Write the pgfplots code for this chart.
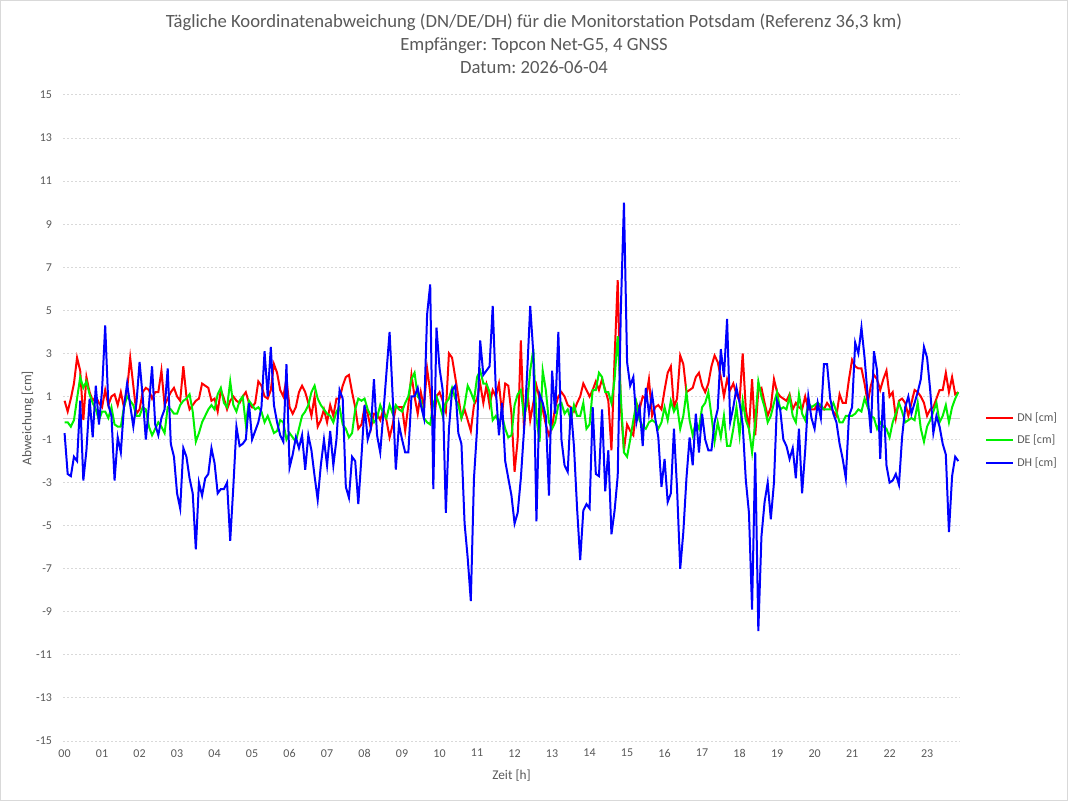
\documentclass[border=0pt]{standalone}
\usepackage{fontspec}
\setmainfont{Carlito}
\usepackage{pgfplots}
\usepackage{pgfplotstable}
\pgfplotsset{compat=1.18}
\frenchspacing

\definecolor{txtgray}{HTML}{595959}
\definecolor{gridgray}{HTML}{D9D9D9}
\definecolor{zerogray}{HTML}{D0D0D0}
\definecolor{dnred}{RGB}{255,0,0}
\definecolor{degreen}{RGB}{0,240,0}
\definecolor{dhblue}{RGB}{0,0,255}

% Abweichungen je 5 Minuten: Zeit [h], DN, DE, DH [cm]
\pgfplotstableread{
h dn de dh
0.000 0.8 -0.2 -0.7
0.083 0.3 -0.2 -2.6
0.167 0.9 -0.4 -2.7
0.250 1.6 -0.1 -1.8
0.333 2.8 0.9 -2.0
0.417 2.2 1.9 0.8
0.500 -0.1 1.4 -2.9
0.583 1.9 1.7 -1.5
0.667 1.2 1.1 0.9
0.750 0.8 0.7 -0.9
0.833 1.0 0.4 1.5
0.917 0.7 -0.1 -0.3
1.000 0.5 0.3 1.3
1.083 1.3 0.3 4.3
1.167 0.6 0.0 0.6
1.250 1.0 0.5 0.1
1.333 1.1 -0.3 -2.9
1.417 0.6 -0.4 -0.9
1.500 1.2 -0.4 -1.6
1.583 0.5 0.5 0.5
1.667 1.3 1.0 1.6
1.750 2.8 0.8 0.6
1.833 1.5 0.6 -0.4
1.917 0.2 0.1 0.7
2.000 0.4 0.1 2.6
2.083 1.2 0.5 1.0
2.167 1.4 0.4 -1.0
2.250 1.3 -0.4 0.6
2.333 0.9 -0.8 2.4
2.417 1.2 -0.5 -0.3
2.500 1.2 -0.2 -0.8
2.583 2.2 -0.4 0.0
2.667 0.6 -0.7 0.4
2.750 0.9 0.5 2.3
2.833 1.2 0.4 -1.2
2.917 1.4 0.2 -1.8
3.000 1.0 0.2 -3.5
3.083 0.8 0.6 -4.2
3.167 2.4 0.8 -1.4
3.250 1.0 0.9 -1.8
3.333 0.4 1.1 -2.8
3.417 0.6 0.3 -3.5
3.500 0.8 -1.1 -6.1
3.583 0.9 -0.7 -3.0
3.667 1.6 -0.2 -3.6
3.750 1.5 0.1 -2.8
3.833 1.4 0.4 -2.6
3.917 0.8 0.6 -1.4
4.000 0.9 0.4 -2.1
4.083 0.3 1.1 -3.5
4.167 1.3 1.4 -3.3
4.250 0.9 0.7 -3.3
4.333 0.4 0.5 -3.0
4.417 0.8 1.7 -5.7
4.500 1.0 0.6 -3.2
4.583 0.8 0.3 -0.4
4.667 0.7 0.8 -1.3
4.750 1.0 1.0 -1.2
4.833 1.2 -0.3 -1.0
4.917 0.7 0.8 0.7
5.000 0.5 0.6 -1.0
5.083 0.7 0.4 -0.6
5.167 1.7 0.5 -0.2
5.250 1.5 0.3 0.5
5.333 1.0 -0.2 3.1
5.417 0.9 0.1 1.0
5.500 1.3 -0.3 3.3
5.583 2.5 -0.7 0.6
5.667 2.1 -0.6 -0.2
5.750 1.3 -0.1 -0.8
5.833 1.0 -0.2 -1.1
5.917 1.8 -1.0 2.5
6.000 0.5 -0.7 -2.3
6.083 0.2 -0.9 -1.7
6.167 0.5 -1.1 -0.9
6.250 1.2 -0.5 -1.4
6.333 1.5 0.1 -0.8
6.417 1.2 0.3 -2.4
6.500 0.7 0.6 -0.8
6.583 0.1 1.2 -1.5
6.667 1.0 1.5 -2.7
6.750 -0.4 0.9 -3.8
6.833 -0.1 0.6 -2.2
6.917 0.4 0.4 -1.0
7.000 -0.2 0.2 -2.2
7.083 0.6 0.1 -0.6
7.167 0.1 -0.2 -2.2
7.250 0.9 0.3 -1.0
7.333 0.9 0.5 1.3
7.417 1.5 -0.3 0.9
7.500 1.9 -0.5 -3.2
7.583 2.0 -0.9 -3.7
7.667 1.2 -0.7 -1.8
7.750 0.5 0.4 -2.0
7.833 -0.5 0.9 -4.0
7.917 -0.3 0.8 -1.8
8.000 0.5 0.9 0.6
8.083 0.2 0.4 -1.0
8.167 -0.5 0.1 -0.5
8.250 0.2 -0.2 1.8
8.333 0.2 0.0 -0.8
8.417 -0.1 0.6 -1.6
8.500 0.4 0.2 0.2
8.583 -0.1 0.0 2.1
8.667 -0.9 0.6 4.0
8.750 -0.3 0.2 1.0
8.833 0.5 0.6 -2.4
8.917 0.5 0.4 -0.3
9.000 0.5 0.3 -1.0
9.083 -0.6 0.7 -1.6
9.167 0.6 1.0 -1.6
9.250 2.0 1.8 1.0
9.333 1.0 2.1 1.0
9.417 0.2 1.0 1.4
9.500 1.2 0.8 0.6
9.583 0.5 0.0 0.0
9.667 2.3 -0.2 4.8
9.750 1.2 -0.3 6.2
9.833 -0.6 0.7 -3.3
9.917 1.0 1.0 4.2
10.000 1.2 0.6 2.3
10.083 0.8 0.1 1.3
10.167 0.3 0.7 -4.4
10.250 3.0 0.9 -0.5
10.333 2.8 1.4 1.3
10.417 1.9 0.9 1.5
10.500 1.0 0.6 -0.7
10.583 0.0 0.0 -1.2
10.667 0.4 0.6 -4.9
10.750 -0.1 1.5 -6.5
10.833 -0.6 1.2 -8.5
10.917 0.6 0.8 -2.8
11.000 0.9 1.9 -0.5
11.083 1.6 2.2 3.6
11.167 0.7 1.6 2.0
11.250 1.5 1.6 2.2
11.333 0.6 1.2 2.4
11.417 1.3 -0.1 5.2
11.500 1.0 0.1 1.3
11.583 1.6 -0.2 -0.8
11.667 0.2 0.1 0.7
11.750 1.6 -0.5 -2.0
11.833 1.5 -0.9 -2.8
11.917 0.2 -0.8 -3.6
12.000 -2.5 0.6 -4.9
12.083 -1.0 1.1 -4.4
12.167 3.6 1.3 -2.8
12.250 -0.5 0.1 -0.6
12.333 1.4 0.6 2.0
12.417 -0.1 2.2 5.2
12.500 0.7 3.2 3.0
12.583 1.5 0.0 -4.8
12.667 0.9 -1.1 1.1
12.750 0.4 2.2 0.7
12.833 -0.3 1.3 0.1
12.917 -0.8 -0.2 -3.6
13.000 -0.4 -0.5 2.2
13.083 0.5 -0.2 0.2
13.167 1.0 0.6 4.0
13.250 1.2 0.7 -1.0
13.333 1.0 0.2 -2.2
13.417 0.6 0.4 -2.5
13.500 0.5 -0.1 0.5
13.583 0.3 0.6 -1.3
13.667 0.7 0.1 -4.2
13.750 1.0 0.1 -6.6
13.833 1.6 0.7 -4.3
13.917 1.3 -0.5 -4.0
14.000 1.0 -0.3 -4.2
14.083 1.3 1.3 0.5
14.167 1.7 1.3 -2.6
14.250 1.3 2.1 -2.7
14.333 1.8 1.9 0.4
14.417 1.3 1.2 -3.4
14.500 0.8 1.2 -1.5
14.583 -1.5 0.7 -5.4
14.667 2.8 1.8 -4.3
14.750 6.4 3.8 -2.7
14.833 0.5 1.0 5.0
14.917 -1.5 -1.6 10.0
15.000 -0.3 -1.8 2.6
15.083 -0.6 -1.0 1.5
15.167 -0.8 -0.1 1.9
15.250 0.7 0.7 -0.2
15.333 0.4 -0.1 0.5
15.417 1.0 -0.4 -1.3
15.500 0.9 -0.5 1.4
15.583 1.8 -0.2 0.2
15.667 0.1 -0.1 1.1
15.750 0.5 -0.2 0.0
15.833 0.6 -0.5 -0.9
15.917 0.4 -0.2 -3.2
16.000 1.3 0.5 -1.9
16.083 2.1 -0.1 -3.9
16.167 2.4 0.8 -3.5
16.250 0.5 0.3 -0.5
16.333 0.9 0.6 -3.3
16.417 2.9 -0.5 -7.0
16.500 2.5 0.1 -5.3
16.583 1.2 1.2 -2.8
16.667 1.3 -0.1 -0.9
16.750 1.4 -0.8 -2.2
16.833 1.9 -0.2 0.2
16.917 2.1 -0.5 -1.6
17.000 1.5 0.5 0.2
17.083 1.2 0.7 -1.0
17.167 1.6 1.2 -1.5
17.250 2.4 0.1 -1.5
17.333 2.9 -1.1 -0.2
17.417 2.6 -0.2 0.4
17.500 1.9 -0.9 3.2
17.583 1.0 0.1 1.9
17.667 1.8 -1.3 4.6
17.750 1.3 -1.3 -0.2
17.833 1.6 -0.5 0.5
17.917 1.1 0.5 1.4
18.000 0.8 -0.8 0.7
18.083 3.0 0.8 -0.3
18.167 0.4 -0.1 -2.9
18.250 -0.5 -0.5 -4.4
18.333 1.8 -1.6 -8.9
18.417 -0.8 -0.2 -1.6
18.500 1.3 1.7 -9.9
18.583 1.4 1.0 -5.5
18.667 0.7 0.5 -3.9
18.750 0.1 -0.2 -3.0
18.833 0.5 0.1 -4.7
18.917 1.8 0.7 -3.0
19.000 1.2 1.2 0.8
19.083 1.0 0.4 0.4
19.167 0.9 0.5 -1.0
19.250 0.8 0.4 -1.3
19.333 1.1 1.0 -1.9
19.417 0.4 0.1 -1.4
19.500 0.7 -0.2 -2.8
19.583 0.5 1.1 -0.5
19.667 0.4 0.2 -3.5
19.750 1.0 -0.1 -1.5
19.833 0.4 0.7 1.0
19.917 0.4 0.5 0.0
20.000 0.4 0.6 -0.5
20.083 0.7 0.7 0.7
20.167 0.5 0.6 0.0
20.250 0.4 0.4 2.5
20.333 0.7 0.4 2.5
20.417 0.5 0.4 0.9
20.500 0.3 0.7 0.2
20.583 0.1 0.3 -0.2
20.667 1.1 -0.2 -1.2
20.750 0.7 -0.2 -1.9
20.833 0.7 0.1 -2.8
20.917 1.8 0.1 0.1
21.000 2.7 0.1 0.5
21.083 2.4 0.2 3.5
21.167 2.3 0.4 3.0
21.250 2.3 0.3 4.2
21.333 1.6 0.9 2.8
21.417 0.7 0.5 1.0
21.500 1.5 0.1 -0.7
21.583 2.0 0.0 3.1
21.667 1.8 -0.5 2.2
21.750 1.3 -0.2 -1.9
21.833 1.8 -0.4 1.2
21.917 2.2 -0.5 -2.2
22.000 1.0 -0.9 -3.0
22.083 1.2 -0.2 -2.9
22.167 0.0 0.2 -2.6
22.250 0.8 0.7 -3.1
22.333 0.9 0.3 -0.9
22.417 0.7 -0.2 0.5
22.500 0.1 -0.1 1.0
22.583 0.7 0.0 0.2
22.667 1.3 -0.1 0.7
22.750 1.2 0.7 1.2
22.833 1.0 -0.5 1.8
22.917 0.7 -1.1 3.3
23.000 0.1 -0.4 2.8
23.083 0.4 -0.1 1.3
23.167 0.5 0.3 -0.7
23.250 0.9 0.7 0.1
23.333 1.3 -0.2 -0.4
23.417 1.3 0.1 -1.2
23.500 2.1 0.6 -1.7
23.583 1.2 -0.2 -5.3
23.667 1.9 0.5 -2.7
23.750 1.1 0.9 -1.8
23.833 1.2 1.2 -2.0
}\abweichung

\begin{document}
\begin{tikzpicture}
% chart area with thin frame
\useasboundingbox (0pt,0pt) rectangle (801pt,600.75pt);
\draw[gridgray, line width=0.75pt] (0.375pt,0.375pt) rectangle (800.625pt,600.375pt);

% title
\node[anchor=base, text=txtgray, font=\fontsize{14}{17}\selectfont, inner sep=0pt]
  at (400.5pt,579.75pt) {Tägliche Koordinatenabweichung (DN/DE/DH) für die Monitorstation Potsdam (Referenz 36,3 km)};
\node[anchor=base, text=txtgray, font=\fontsize{14}{17}\selectfont, inner sep=0pt]
  at (400.5pt,562.5pt) {Empfänger: Topcon Net-G5, 4 GNSS};
\node[anchor=base, text=txtgray, font=\fontsize{14}{17}\selectfont, inner sep=0pt]
  at (400.5pt,545.25pt) {Datum: 2026-06-04};

\begin{axis}[
  at={(47.25pt,45pt)}, anchor=south west,
  scale only axis, width=672.75pt, height=484.5pt,
  xmin=-0.042, xmax=23.878, ymin=-15, ymax=15,
  xtick={0,...,23},
  xticklabels={00,01,02,03,04,05,06,07,08,09,10,11,12,13,14,15,16,17,18,19,20,21,22,23},
  ytick={-15,-13,...,15},
  yticklabels={-15,-13,-11,-9,-7,-5,-3,-1,1,3,5,7,9,11,13,15},
  ymajorgrids,
  major grid style={gridgray, dash pattern=on 1.5pt off 1.5pt, line width=0.75pt},
  extra y ticks={0}, extra y tick labels={},
  extra y tick style={grid=major, major grid style={zerogray, solid, line width=0.75pt}},
  axis line style={draw=none},
  major tick length=0pt,
  tick label style={font=\fontsize{9}{11}\selectfont, text=txtgray},
  xticklabel style={anchor=north, inner sep=0pt, yshift=-6pt},
  yticklabel style={anchor=east, inner sep=0pt, xshift=-8pt},
  xlabel={Zeit [h]},
  ylabel={Abweichung [cm]},
  every axis x label/.style={at={(axis description cs:0.5,-0.0592)}, anchor=base,
    font=\fontsize{10}{12}\selectfont, text=txtgray, inner sep=0pt},
  every axis y label/.style={at={(axis description cs:-0.0353,0.5)}, rotate=90, anchor=base,
    font=\fontsize{10}{12}\selectfont, text=txtgray, inner sep=0pt},
  legend image code/.code={\draw[#1] (0pt,0pt) -- (20pt,0pt);},
  legend cell align=left,
  legend style={at={(axis description cs:1.0279,0.4655)}, anchor=west,
    draw=none, fill=none, inner sep=0pt,
    font=\fontsize{9}{11}\selectfont, text=txtgray,
    row sep=8.9pt,
    nodes={inner sep=0pt, text height=6.5pt, text depth=1.5pt},
    /tikz/every odd column/.append style={column sep=2.5pt}},
]
\addplot[dnred, line width=1.5pt] table[x=h, y=dn] {\abweichung};
\addlegendentry{DN [cm]}
\addplot[degreen, line width=1.5pt] table[x=h, y=de] {\abweichung};
\addlegendentry{DE [cm]}
\addplot[dhblue, line width=1.5pt] table[x=h, y=dh] {\abweichung};
\addlegendentry{DH [cm]}
\end{axis}
\end{tikzpicture}
\end{document}
